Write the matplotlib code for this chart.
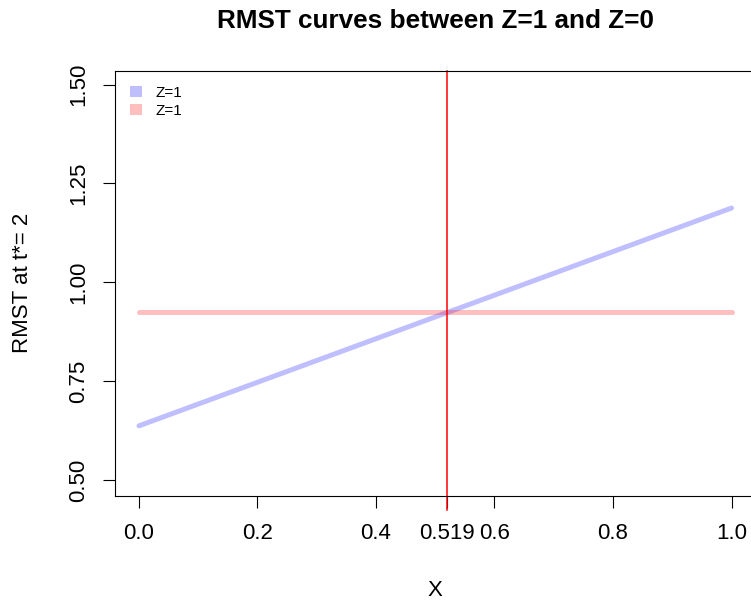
import matplotlib
matplotlib.use("Agg")
import matplotlib.pyplot as plt
from matplotlib.patches import Patch

plt.rcParams['font.family'] = ['Liberation Sans', 'DejaVu Sans']

# data
x_grid = [0.0, 1.0]
rmst_z1 = [0.638, 1.188]
rmst_z0 = [0.925, 0.925]
cross_x = 0.519
x_ticks = [0.0, 0.2, 0.4, 0.519, 0.6, 0.8, 1.0]
x_tick_labels = ["0.0", "0.2", "0.4", "0.519", "0.6", "0.8", "1.0"]
y_ticks = [0.50, 0.75, 1.00, 1.25, 1.50]
y_tick_labels = ["0.50", "0.75", "1.00", "1.25", "1.50"]
legend_labels = ["Z=1", "Z=1"]

fig = plt.figure(figsize=(7.51, 6.01), dpi=100)
ax = fig.add_axes([0.1535, 0.1755, 0.8521, 0.7063])

ax.plot(x_grid, rmst_z1, color="blue", alpha=0.25, lw=3.6, solid_capstyle="round")
ax.plot(x_grid, rmst_z0, color="red", alpha=0.25, lw=3.6, solid_capstyle="round")
ax.axvline(cross_x, color="red", lw=1.1, ymin=-0.033, ymax=1, clip_on=False)

ax.set_xlim(-0.04, 1.04)
ax.set_ylim(0.462, 1.534)

ax.set_xticks(x_ticks)
ax.set_xticklabels(x_tick_labels)
ax.set_yticks(y_ticks)
ax.set_yticklabels(y_tick_labels, rotation=90, va="center")
ax.tick_params(axis="both", length=8.6, width=0.8, labelsize=16)
ax.tick_params(axis="x", pad=11)
ax.tick_params(axis="y", pad=10)
for spine in ax.spines.values():
    spine.set_linewidth(0.8)

ax.set_title("RMST curves between Z=1 and Z=0", fontsize=18.8, fontweight="bold", x=0.5, y=1.0, pad=31)
ax.set_xlabel("X", fontsize=16)
ax.xaxis.set_label_coords(0.5, -0.2)
ax.set_ylabel("RMST at t*= 2", fontsize=16)
ax.yaxis.set_label_coords(-0.128, 0.5)

handles = [Patch(facecolor="blue", alpha=0.25, edgecolor="none"),
           Patch(facecolor="red", alpha=0.25, edgecolor="none")]
ax.legend(handles, legend_labels, loc="upper left", frameon=False, fontsize=11,
          handlelength=0.8, handleheight=0.8, handletextpad=0.9,
          labelspacing=0.25, borderaxespad=0.4, borderpad=0.55)

fig.savefig("out.png", dpi=100)
